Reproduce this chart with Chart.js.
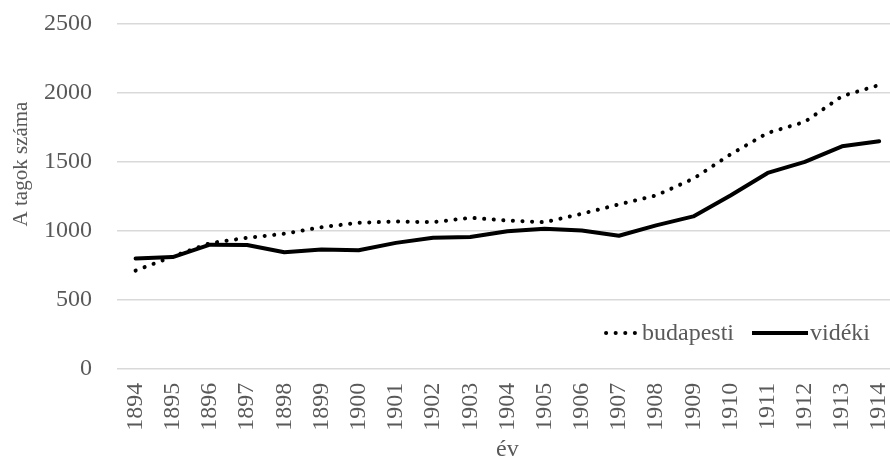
<!DOCTYPE html>
<html><head><meta charset="utf-8">
<script src="https://cdn.jsdelivr.net/npm/chart.js@4"></script>
<style>html,body{margin:0;padding:0;background:#fff;overflow:hidden}#wrap{width:890px;height:462px;overflow:hidden}</style>
</head><body><div id="wrap"><canvas id="c" width="908" height="462" style="width:908px;height:462px"></canvas></div>
<script>
const years = ['1894','1895','1896','1897','1898','1899','1900','1901','1902','1903','1904','1905','1906','1907','1908','1909','1910','1911','1912','1913','1914'];
const budapesti = [712,814,911,950,979,1027,1059,1068,1063,1095,1075,1063,1124,1192,1257,1378,1555,1710,1790,1977,2057];
const videki = [800,810,900,898,845,865,860,913,950,955,998,1015,1003,965,1040,1105,1257,1420,1500,1613,1650];
const seriesNames = ['budapesti','vidéki'];
const yTitle = 'A tagok száma';
const xTitle = 'év';

const FONT = "'Liberation Serif', 'Times New Roman', serif";
const GRAY = '#595959';
const CLEAR = 'rgba(0,0,0,0)';

const overlay = {
  id: 'overlay',
  afterDraw(chart) {
    const ctx = chart.ctx, ca = chart.chartArea;
    ctx.save();
    ctx.font = '21px ' + FONT;
    ctx.fillStyle = GRAY;
    ctx.translate(21, 164);
    ctx.rotate(-Math.PI / 2);
    ctx.textAlign = 'center';
    ctx.textBaseline = 'middle';
    ctx.fillText(yTitle, 0, 0);
    ctx.restore();
    ctx.save();
    ctx.font = '24px ' + FONT;
    ctx.fillStyle = GRAY;
    ctx.textBaseline = 'middle';
    const y = 333;
    let x = 870;
    const w2 = ctx.measureText(seriesNames[1]).width;
    x -= w2;
    ctx.fillText(seriesNames[1], x, y + 1);
    x -= 2;
    ctx.strokeStyle = '#000'; ctx.lineWidth = 4; ctx.lineCap = 'butt';
    ctx.beginPath(); ctx.moveTo(x - 56, y); ctx.lineTo(x, y); ctx.stroke();
    x -= 56 + 18;
    const w1 = ctx.measureText(seriesNames[0]).width;
    x -= w1;
    ctx.fillText(seriesNames[0], x, y + 1);
    x -= 6;
    ctx.lineCap = 'round'; ctx.setLineDash([0.1, 9.5]);
    ctx.beginPath(); ctx.moveTo(x - 30, y); ctx.lineTo(x, y); ctx.stroke();
    ctx.restore();
  }
};

new Chart(document.getElementById('c'), {
  type: 'line',
  data: {
    labels: years,
    datasets: [
      { label: seriesNames[0], data: budapesti, borderColor: '#000', borderWidth: 4, borderDash: [0.1, 9.5], borderCapStyle: 'round', pointRadius: 0, tension: 0, fill: false },
      { label: seriesNames[1], data: videki, borderColor: '#000', borderWidth: 4, borderCapStyle: 'round', borderJoinStyle: 'round', pointRadius: 0, tension: 0, fill: false }
    ]
  },
  options: {
    responsive: false,
    animation: false,
    layout: { padding: { left: 44, top: 24, right: 0, bottom: 3 } },
    plugins: { legend: { display: false }, tooltip: { enabled: false } },
    scales: {
      x: {
        offset: true,
        grid: { display: true, drawOnChartArea: false, drawTicks: true, tickLength: 14, tickColor: CLEAR },
        border: { display: false },
        ticks: { color: GRAY, font: { family: FONT, size: 24 }, minRotation: 90, maxRotation: 90, padding: 0, autoSkip: false },
        title: { display: true, text: xTitle, color: GRAY, font: { family: FONT, size: 24, lineHeight: 0.8 }, padding: { top: 9, bottom: 0 } }
      },
      y: {
        min: 0, max: 2500,
        ticks: { stepSize: 500, color: GRAY, font: { family: FONT, size: 24 }, padding: 0, callback: v => String(v) },
        grid: { color: '#d9d9d9', lineWidth: 1.5, drawTicks: true, tickLength: 25, tickColor: CLEAR },
        border: { display: false }
      }
    }
  },
  plugins: [overlay]
});
</script></body></html>
